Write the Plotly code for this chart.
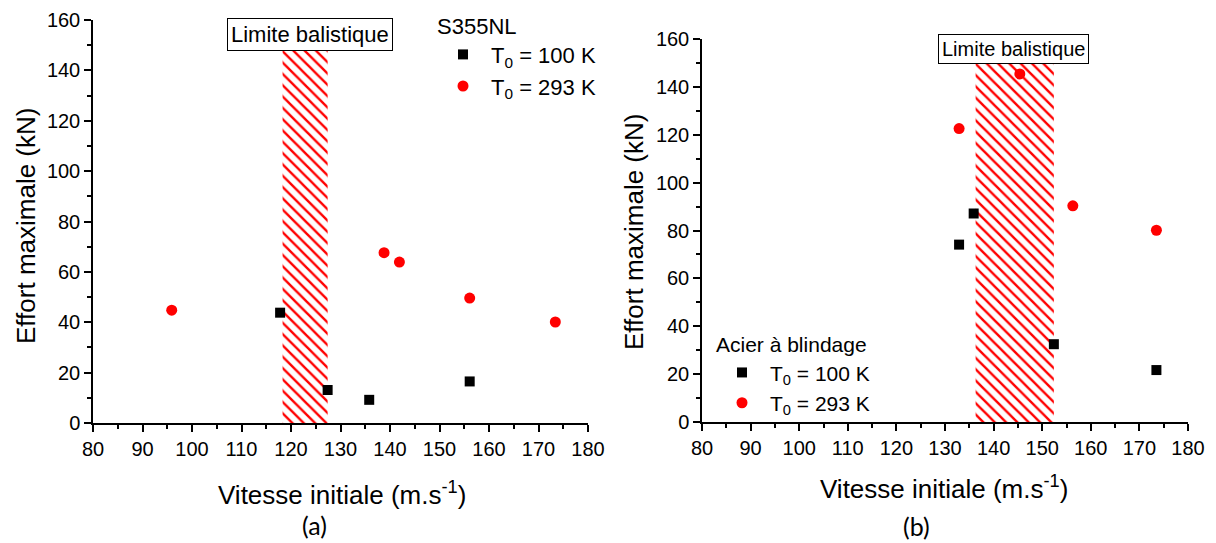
import plotly.graph_objects as go

# ---------------- data ----------------
# Panel (a) : S355NL
a_v_100 = [117.8, 127.4, 135.8, 156.1]
a_f_100 = [43.8, 13.1, 9.2, 16.5]
a_v_293 = [95.9, 138.8, 141.9, 156.1, 173.4]
a_f_293 = [44.8, 67.6, 63.9, 49.6, 40.1]
a_limit = [118.3, 127.4]      # ballistic limit band (m/s)
a_limit_top = 148.0           # kN, top of hatched band

# Panel (b) : Acier à blindage
b_v_100 = [132.9, 135.9, 152.4, 173.5]
b_f_100 = [74.1, 87.1, 32.5, 21.7]
b_v_293 = [132.9, 145.4, 156.3, 173.5]
b_f_293 = [122.6, 145.4, 90.3, 80.1]
b_limit = [136.3, 152.4]
b_limit_top = 150.0

names = ["T<sub>0</sub> = 100 K", "T<sub>0</sub> = 293 K"]
materials = ["S355NL", "Acier à blindage"]

FONT = "Arial, Liberation Sans, sans-serif"
TXT = "#000"
W, H = 1216, 543

fig = go.Figure()

def band(lim, top, xa, ya):
    return go.Scatter(
        x=[lim[0], lim[1], lim[1], lim[0], lim[0]],
        y=[0, 0, top, top, 0],
        xaxis=xa, yaxis=ya, mode="lines", fill="toself",
        line=dict(width=0, color="rgba(0,0,0,0)"),
        fillcolor="rgba(0,0,0,0)",
        fillpattern=dict(shape="\\", fgcolor="#ff0000", fgopacity=1,
                         bgcolor="rgba(255,255,255,0)",
                         size=8, solidity=0.3, fillmode="overlay"),
        showlegend=False, hoverinfo="skip")

fig.add_trace(band(a_limit, a_limit_top, "x", "y"))
fig.add_trace(band(b_limit, b_limit_top, "x2", "y2"))

fig.add_trace(go.Scatter(x=a_v_100, y=a_f_100, mode="markers", name=names[0],
                         marker=dict(symbol="square", size=10, color="#000000"),
                         xaxis="x", yaxis="y", legend="legend"))
fig.add_trace(go.Scatter(x=a_v_293, y=a_f_293, mode="markers", name=names[1],
                         marker=dict(symbol="circle", size=11, color="#ff0000"),
                         xaxis="x", yaxis="y", legend="legend"))
fig.add_trace(go.Scatter(x=b_v_100, y=b_f_100, mode="markers", name=names[0],
                         marker=dict(symbol="square", size=10, color="#000000"),
                         xaxis="x2", yaxis="y2", legend="legend2"))
fig.add_trace(go.Scatter(x=b_v_293, y=b_f_293, mode="markers", name=names[1],
                         marker=dict(symbol="circle", size=11, color="#ff0000"),
                         xaxis="x2", yaxis="y2", legend="legend2"))

def xaxis(domain, anchor):
    return dict(domain=domain, anchor=anchor, range=[80, 180], dtick=10, tick0=80,
                automargin=False,
                showline=True, linecolor="#000", linewidth=1.5, mirror=False,
                ticks="outside", ticklen=7, tickwidth=1.5, tickcolor="#000",
                minor=dict(ticks="outside", ticklen=4, tickwidth=1.5, dtick=5, tickcolor="#000"),
                showgrid=False, zeroline=False,
                tickfont=dict(family=FONT, size=20, color=TXT))

def yaxis(domain, anchor):
    return dict(domain=domain, anchor=anchor, range=[0, 160], dtick=20, tick0=0,
                automargin=False,
                showline=True, linecolor="#000", linewidth=1.5, mirror=False,
                ticks="outside", ticklen=7, tickwidth=1.5, tickcolor="#000",
                minor=dict(ticks="outside", ticklen=4, tickwidth=1.5, dtick=10, tickcolor="#000"),
                showgrid=False, zeroline=False,
                tickfont=dict(family=FONT, size=20, color=TXT))

px = lambda v: v / W
py = lambda v: 1 - v / H

fig.update_layout(
    template="none",
    width=W, height=H,
    margin=dict(l=0, r=0, t=0, b=0, pad=0, autoexpand=False),
    paper_bgcolor="white", plot_bgcolor="white",
    font=dict(family=FONT, color=TXT),
    xaxis=xaxis([px(93), px(588)], "y"),
    yaxis=yaxis([py(423), py(20)], "x"),
    xaxis2=xaxis([px(702), px(1188)], "y2"),
    yaxis2=yaxis([py(422), py(39)], "x2"),
    legend=dict(x=px(435), y=py(5), xanchor="left", yanchor="top",
                bgcolor="rgba(0,0,0,0)", borderwidth=0, itemwidth=46,
                font=dict(family=FONT, size=22, color=TXT),
                title=dict(text=materials[0], font=dict(family=FONT, size=22, color=TXT))),
    legend2=dict(x=px(714), y=py(325), xanchor="left", yanchor="top",
                 bgcolor="rgba(0,0,0,0)", borderwidth=0, itemwidth=46,
                 font=dict(family=FONT, size=21, color=TXT),
                 title=dict(text=materials[1], font=dict(family=FONT, size=21, color=TXT))),
    showlegend=True,
)

ann = []
# ballistic limit labels
ann.append(dict(text="Limite balistique", x=123.9, y=154.1, xref="x", yref="y",
                xanchor="center", yanchor="middle",
                showarrow=False, bgcolor="white", bordercolor="#000", borderwidth=1,
                borderpad=3, font=dict(family=FONT, size=22, color=TXT)))
ann.append(dict(text="Limite balistique", x=144.1, y=155.9, xref="x2", yref="y2",
                xanchor="center", yanchor="middle",
                showarrow=False, bgcolor="white", bordercolor="#000", borderwidth=1,
                borderpad=3, font=dict(family=FONT, size=20, color=TXT)))
# axis titles
for (xc, yc) in [(26, 226), (634, 232)]:
    ann.append(dict(text="Effort maximale (kN)", x=px(xc), y=py(yc), xref="paper", yref="paper",
                    xanchor="center", yanchor="middle",
                    showarrow=False, textangle=-90,
                    font=dict(family=FONT, size=26, color=TXT)))
for (xc, yc) in [(342, 493), (944, 487)]:
    ann.append(dict(text="Vitesse initiale (m.s<sup>-1</sup>)", x=px(xc), y=py(yc),
                    xref="paper", yref="paper", showarrow=False,
                    xanchor="center", yanchor="middle",
                    font=dict(family=FONT, size=26, color=TXT)))
for (t, xc, yc) in [("(a)", 314, 525), ("(b)", 916, 526)]:
    ann.append(dict(text=t, x=px(xc), y=py(yc), xref="paper", yref="paper", showarrow=False,
                    xanchor="center", yanchor="middle",
                    font=dict(family="Lato, Carlito, sans-serif", size=25, color=TXT)))
fig.update_layout(annotations=ann)

fig.write_html("out.html",
               config={"displayModeBar": False},
               post_script="document.body.style.margin='0px';"
                           "document.body.style.overflow='hidden';")
